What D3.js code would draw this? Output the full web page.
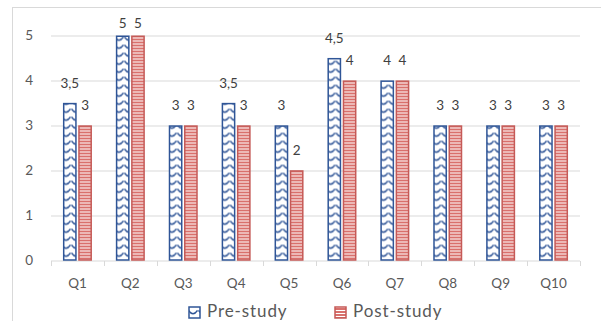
<!DOCTYPE html>
<html>
<head>
<meta charset="utf-8">
<script src="https://cdn.jsdelivr.net/npm/d3@7"></script>
<style>
  html, body { margin: 0; padding: 0; background: #fff; }
  svg { display: block; font-family: Lato, "Open Sans", sans-serif; }
</style>
</head>
<body>
<svg id="chart" width="601" height="321"></svg>
<script>
// Survey answers per question, before and after the study
const categories = ["Q1", "Q2", "Q3", "Q4", "Q5", "Q6", "Q7", "Q8", "Q9", "Q10"];
const preStudy  = [3.5, 5, 3, 3.5, 3, 4.5, 4, 3, 3, 3];
const postStudy = [3,   5, 3, 3,   2, 4,   4, 3, 3, 3];
const seriesNames = ["Pre-study", "Post-study"];
const yTicks = [0, 1, 2, 3, 4, 5];

const svg = d3.select("#chart");
const W = 601, H = 321;
const margin = { left: 51, right: 21, top: 35.5, bottom: 61 };
const plotW = W - margin.left - margin.right;
const plotH = H - margin.top - margin.bottom;

const textColor = "#595959";
const gridColor = "#d9d9d9";
const blue = "#2F5597";
const red = "#C55A57";

// Patterns: wave for pre-study, narrow horizontal stripes for post-study
const defs = svg.append("defs");
const wave = defs.append("pattern")
  .attr("id", "wave").attr("patternUnits", "userSpaceOnUse")
  .attr("width", 10).attr("height", 8);
wave.append("rect").attr("width", 10).attr("height", 8).attr("fill", "#fff");
wave.append("path")
  .attr("d", "M0.5,1.5 Q5,8 9.5,1.5")
  .attr("fill", "none").attr("stroke", blue).attr("stroke-width", 1.4);

const stripes = defs.append("pattern")
  .attr("id", "stripes").attr("patternUnits", "userSpaceOnUse")
  .attr("width", 6).attr("height", 3);
stripes.append("rect").attr("width", 6).attr("height", 3).attr("fill", "#fff");
stripes.append("rect").attr("y", 0).attr("width", 6).attr("height", 2).attr("fill", "#D9706C");

// Outer chart frame
svg.append("rect")
  .attr("x", 12.5).attr("y", 7.5).attr("width", 700).attr("height", 400)
  .attr("fill", "none").attr("stroke", gridColor).attr("stroke-width", 1);

const x0 = d3.scaleBand().domain(categories).range([0, plotW]).padding(0);
const x1 = d3.scaleBand().domain(seriesNames)
  .range([x0.bandwidth() / 2 - 14.5, x0.bandwidth() / 2 + 14.5])
  .paddingInner(0.1).paddingOuter(0);
const y = d3.scaleLinear().domain([0, 5]).range([plotH, 0]);

const g = svg.append("g").attr("transform", `translate(${margin.left},${margin.top})`);

// Horizontal gridlines
g.append("g").selectAll("line").data(yTicks.filter(d => d > 0)).join("line")
  .attr("x1", 0).attr("x2", plotW)
  .attr("y1", d => Math.round(y(d)) + 0.5).attr("y2", d => Math.round(y(d)) + 0.5)
  .attr("stroke", gridColor).attr("stroke-width", 1);

// Y axis labels
const yAxis = g.append("g").call(d3.axisLeft(y).tickValues(yTicks).tickFormat(d3.format("d"))
  .tickSize(0).tickPadding(18));
yAxis.select(".domain").remove();
yAxis.selectAll("text").attr("fill", textColor).attr("font-size", 13.5)
  .attr("font-family", "Lato, sans-serif");

// X axis with category-boundary ticks
const xAxisG = g.append("g").attr("transform", `translate(0,${Math.round(plotH) + 0.5})`);
xAxisG.append("line").attr("x1", 0).attr("x2", plotW).attr("stroke", gridColor);
xAxisG.selectAll("line.tick").data(d3.range(categories.length + 1)).join("line")
  .attr("class", "tick")
  .attr("x1", i => Math.round(i * x0.step()) + 0.5).attr("x2", i => Math.round(i * x0.step()) + 0.5)
  .attr("y1", 0).attr("y2", 5).attr("stroke", gridColor);
xAxisG.selectAll("text").data(categories).join("text")
  .attr("x", d => x0(d) + x0.bandwidth() / 2).attr("y", 27)
  .attr("text-anchor", "middle").attr("fill", textColor)
  .attr("font-size", 13.5).text(d => d);

// Bars
const rows = categories.map((c, i) => ({ cat: c, values: [
  { key: "Pre-study", v: preStudy[i] },
  { key: "Post-study", v: postStudy[i] }
]}));
const fmt = v => String(v).replace(".", ",");

const groups = g.append("g").selectAll("g").data(rows).join("g")
  .attr("transform", d => `translate(${x0(d.cat)},0)`);

groups.selectAll("rect").data(d => d.values).join("rect")
  .attr("x", d => x1(d.key) + 0.75)
  .attr("y", d => y(d.v) + 0.75)
  .attr("width", x1.bandwidth() - 1.5)
  .attr("height", d => plotH - y(d.v) - 0.75)
  .attr("fill", d => d.key === "Pre-study" ? "url(#wave)" : "url(#stripes)")
  .attr("stroke", d => d.key === "Pre-study" ? blue : red)
  .attr("stroke-width", 1.5);

// Data labels
groups.selectAll("text").data(d => d.values).join("text")
  .attr("x", d => x1(d.key) + x1.bandwidth() / 2)
  .attr("y", d => Math.max(y(d.v) - 15, -8))
  .attr("text-anchor", "middle").attr("fill", "#404040")
  .attr("font-size", 13.5).text(d => fmt(d.v));

// Legend
const legend = svg.append("g").attr("transform", "translate(0,317)");
const legendItems = [
  { name: seriesNames[0], x: 188, fill: "url(#wave)", stroke: blue },
  { name: seriesNames[1], x: 334, fill: "url(#stripes)", stroke: red }
];
const li = legend.selectAll("g").data(legendItems).join("g")
  .attr("transform", d => `translate(${d.x},0)`);
li.append("rect").attr("x", 1).attr("y", -10).attr("width", 11).attr("height", 11)
  .attr("fill", d => d.fill).attr("stroke", d => d.stroke).attr("stroke-width", 1.5);
li.append("text").attr("x", 19).attr("y", 0)
  .attr("fill", textColor).attr("font-size", 17).attr("letter-spacing", 0.9)
  .text(d => d.name);
</script>
</body>
</html>
